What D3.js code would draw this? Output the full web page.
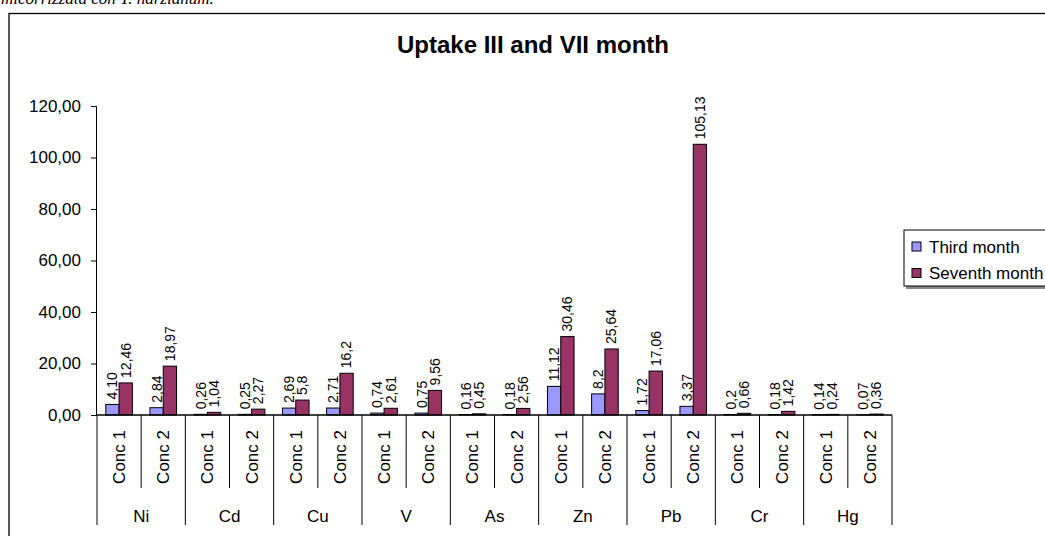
<!DOCTYPE html>
<html>
<head>
<meta charset="utf-8">
<script src="https://cdn.jsdelivr.net/npm/d3@7"></script>
<style>
  html, body { margin: 0; padding: 0; background: #fff; }
  svg { display: block; }
  text { font-family: "Liberation Sans", Arial, sans-serif; fill: #000; }
</style>
</head>
<body>
<svg id="chart" width="1045" height="536"></svg>
<script>
// Metals and concentration levels
const metals = ["Ni", "Cd", "Cu", "V", "As", "Zn", "Pb", "Cr", "Hg"];
const concLevels = ["Conc 1", "Conc 2"];

// Uptake values, written as printed on the bars
const thirdMonth = ["4,10", "2,84", "0,26", "0,25", "2,69", "2,71", "0,74", "0,75", "0,16", "0,18",
                    "11,12", "8,2", "1,72", "3,37", "0,2", "0,18", "0,14", "0,07"];
const seventhMonth = ["12,46", "18,97", "1,04", "2,27", "5,8", "16,2", "2,61", "9,56", "0,45", "2,56",
                      "30,46", "25,64", "17,06", "105,13", "0,66", "1,42", "0,24", "0,36"];

const seriesNames = ["Third month", "Seventh month"];
const seriesColors = ["#9999FF", "#993366"];
const yTicks = [0, 20, 40, 60, 80, 100, 120];

const parseNum = s => +s.replace(",", ".");

// One row per metal/concentration pair
const rows = [];
metals.forEach((m, i) => {
  concLevels.forEach((c, j) => {
    const k = i * concLevels.length + j;
    rows.push({
      key: k, metal: m, conc: c,
      vals: [
        { s: 0, label: thirdMonth[k], v: parseNum(thirdMonth[k]) },
        { s: 1, label: seventhMonth[k], v: parseNum(seventhMonth[k]) }
      ]
    });
  });
});

const svg = d3.select("#chart");

// Caption line above the chart frame (cut by the page top)
svg.append("text")
  .attr("x", 1).attr("y", 4)
  .style("font-family", "'Liberation Serif', 'Times New Roman', serif")
  .style("font-style", "italic")
  .style("font-size", "17px")
  .text("micorrizzata con T. harzianum.");

// Chart area frame
svg.append("rect")
  .attr("x", 9).attr("y", 13.5)
  .attr("width", 1100).attr("height", 600)
  .attr("fill", "#fff").attr("stroke", "#000").attr("stroke-width", 1.3);

// Title
svg.append("text")
  .attr("x", 533).attr("y", 53)
  .attr("text-anchor", "middle")
  .style("font-size", "24px").style("font-weight", "bold")
  .text("Uptake III and VII month");

const plotLeft = 97, plotRight = 892, plotTop = 106, plotBottom = 415;

const x = d3.scaleBand()
  .domain(rows.map(d => d.key))
  .range([plotLeft, plotRight])
  .paddingInner(0).paddingOuter(0);

const xs = d3.scaleBand()
  .domain([0, 1])
  .range([0, x.bandwidth()])
  .paddingInner(0).paddingOuter(0.66);

const y = d3.scaleLinear().domain([0, 120]).range([plotBottom, plotTop]);

const fmt = d3.format(".2f");

// Y axis
const yAxis = svg.append("g")
  .attr("transform", `translate(${plotLeft},0)`)
  .call(d3.axisLeft(y).tickValues(yTicks).tickSize(6).tickPadding(10)
    .tickFormat(d => fmt(d).replace(".", ",")));
yAxis.select(".domain").attr("stroke", "#000").attr("d", `M-0.5,${plotTop}V${plotBottom}`);
yAxis.selectAll(".tick line").attr("stroke", "#000");
yAxis.selectAll(".tick text")
  .style("font-size", "17px")
  .style("font-family", "'Liberation Sans', Arial, sans-serif")
  .attr("fill", "#000");

// Bars
const groups = svg.append("g").selectAll("g")
  .data(rows).join("g")
  .attr("transform", d => `translate(${x(d.key)},0)`);

groups.selectAll("rect")
  .data(d => d.vals).join("rect")
  .attr("x", d => xs(d.s))
  .attr("y", d => y(d.v))
  .attr("width", xs.bandwidth())
  .attr("height", d => y(0) - y(d.v))
  .attr("fill", d => seriesColors[d.s])
  .attr("stroke", "#000").attr("stroke-width", 1);

// Value labels, rotated
groups.selectAll("text.val")
  .data(d => d.vals).join("text")
  .attr("class", "val")
  .attr("transform", d => `translate(${xs(d.s) + xs.bandwidth() / 2},${y(d.v) - 5}) rotate(-90)`)
  .attr("dy", "0.35em")
  .attr("text-anchor", "start")
  .style("font-size", "14px")
  .text(d => d.label);

// Category axis line
svg.append("line")
  .attr("x1", plotLeft).attr("x2", plotRight)
  .attr("y1", plotBottom).attr("y2", plotBottom)
  .attr("stroke", "#000").attr("stroke-width", 1.3);

// Separators: short between concentrations, long between metals
const boundaries = d3.range(rows.length + 1);
svg.append("g").selectAll("line")
  .data(boundaries).join("line")
  .attr("x1", i => i < rows.length ? x(i) : plotRight)
  .attr("x2", i => i < rows.length ? x(i) : plotRight)
  .attr("y1", plotBottom)
  .attr("y2", i => i % 2 === 0 ? 525 : 488)
  .attr("stroke", "#000").attr("stroke-width", 1);

// Concentration labels
svg.append("g").selectAll("text")
  .data(rows).join("text")
  .attr("transform", d => `translate(${x(d.key) + x.bandwidth() / 2},430) rotate(-90)`)
  .attr("dy", "0.35em")
  .attr("text-anchor", "end")
  .style("font-size", "17px")
  .text(d => d.conc);

// Metal labels
svg.append("g").selectAll("text")
  .data(metals).join("text")
  .attr("x", (m, i) => x(i * 2) + x.bandwidth())
  .attr("y", 522)
  .attr("text-anchor", "middle")
  .style("font-size", "17px")
  .text(m => m);

// Legend
const legend = svg.append("g").attr("transform", "translate(904,230)");
legend.append("rect")
  .attr("x", 2).attr("y", 2).attr("width", 200).attr("height", 57)
  .attr("fill", "#888");
legend.append("rect")
  .attr("x", 0).attr("y", 0).attr("width", 200).attr("height", 56)
  .attr("fill", "#fff").attr("stroke", "#000").attr("stroke-width", 1);
const items = legend.selectAll("g.item")
  .data(seriesNames).join("g")
  .attr("class", "item")
  .attr("transform", (d, i) => `translate(0,${12 + i * 26.5})`);
items.append("rect")
  .attr("x", 8).attr("y", 0).attr("width", 9).attr("height", 9)
  .attr("fill", (d, i) => seriesColors[i])
  .attr("stroke", "#000").attr("stroke-width", 1);
items.append("text")
  .attr("x", 25).attr("y", 10.5)
  .style("font-size", "17px")
  .text(d => d);
</script>
</body>
</html>
